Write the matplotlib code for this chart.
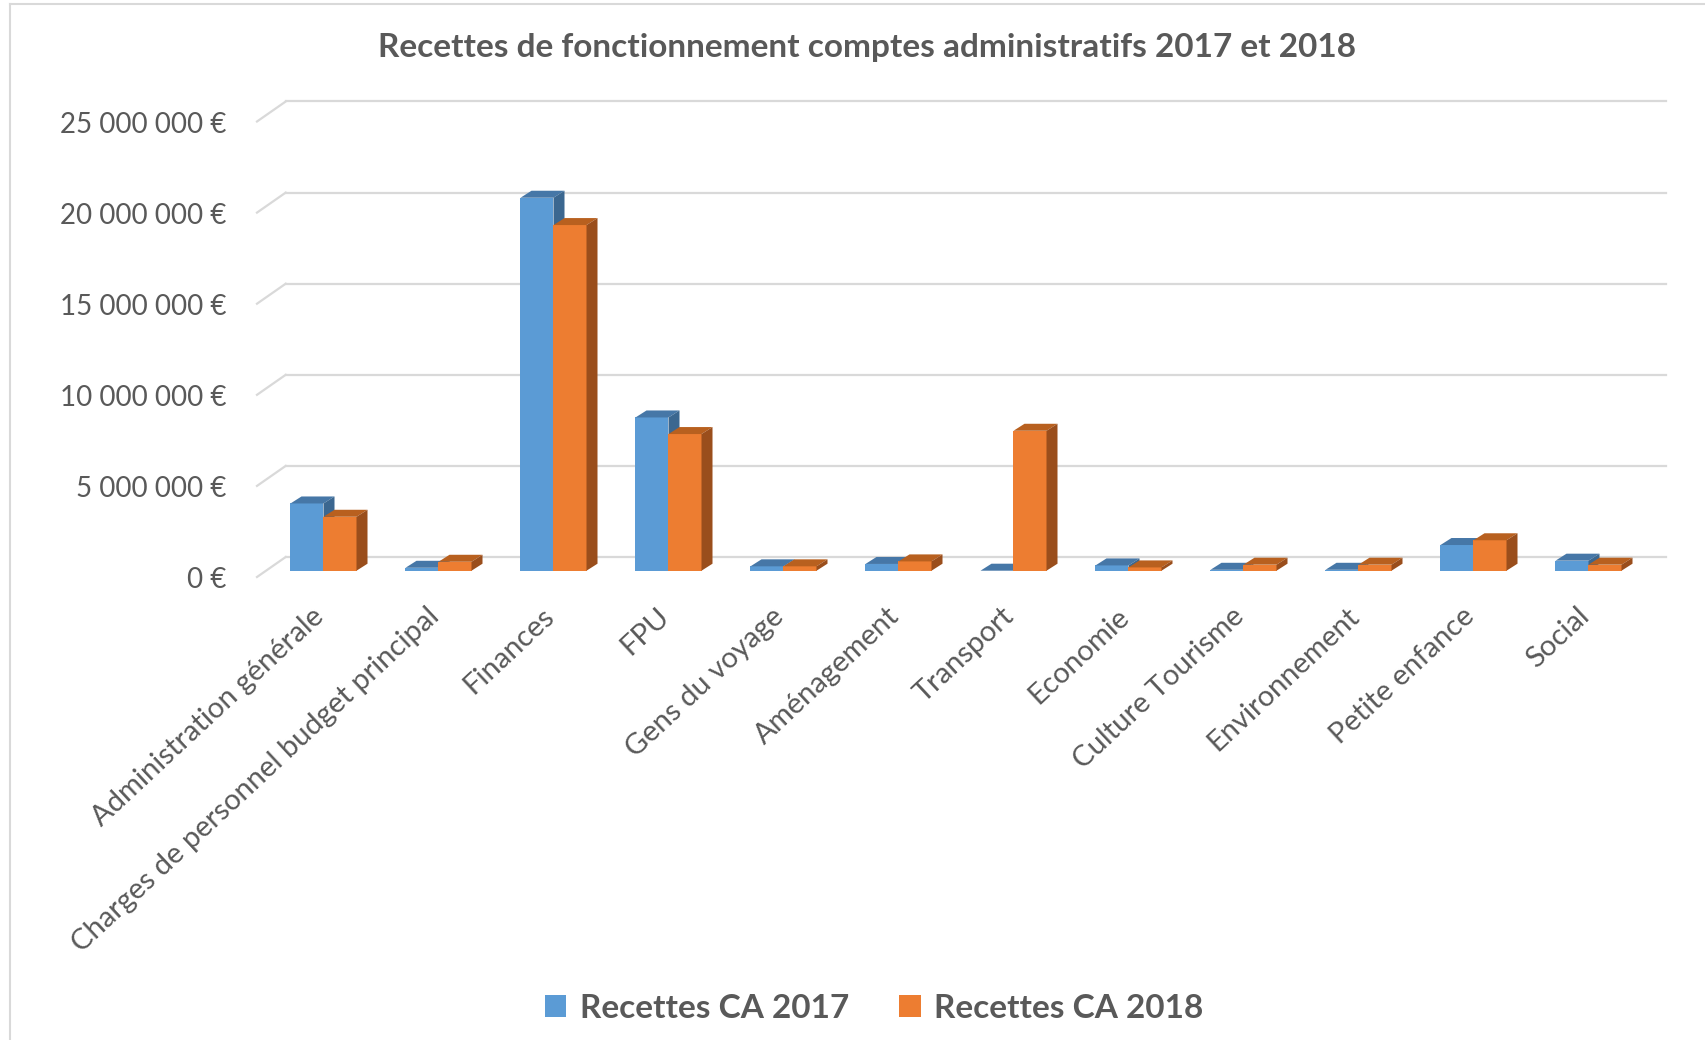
import matplotlib
matplotlib.use("Agg")
import matplotlib.pyplot as plt
from matplotlib.patches import Polygon, Patch
from matplotlib.lines import Line2D
import matplotlib.transforms as mtrans
import numpy as np

# ---------------- data ----------------
categories = ["Administration générale", "Charges de personnel budget principal",
              "Finances", "FPU", "Gens du voyage", "Aménagement", "Transport",
              "Economie", "Culture Tourisme", "Environnement", "Petite enfance", "Social"]
recettes_2017 = [3.69e6, 0.16e6, 20.47e6, 8.41e6, 0.24e6, 0.37e6, 0.0,
                 0.29e6, 0.05e6, 0.05e6, 1.41e6, 0.55e6]
recettes_2018 = [2.96e6, 0.49e6, 18.97e6, 7.50e6, 0.24e6, 0.51e6, 7.68e6,
                 0.18e6, 0.33e6, 0.33e6, 1.67e6, 0.33e6]
series_names = ["Recettes CA 2017", "Recettes CA 2018"]
y_ticks = [0, 5e6, 10e6, 15e6, 20e6, 25e6]
title = "Recettes de fonctionnement comptes administratifs 2017 et 2018"

# ---------------- style ----------------
W, H, DPI = 1706, 1040, 100
plt.rcParams['font.family'] = ['Lato', 'DejaVu Sans']
TXT = '#595959'
GRID = '#D9D9D9'
front_cols = ['#5B9BD5', '#ED7D31']
top_cols = ['#4677A7', '#B8601F']
side_cols = ['#3B6790', '#9A4E1C']

fig = plt.figure(figsize=(W / DPI, H / DPI), dpi=DPI)
fig.patch.set_facecolor('white')

def fx(px):
    return px / W

def fy(py):
    return 1 - py / H

# plane of bar front faces (pixel coords)
L, R, B, T = 266, 1646, 570.7, 115.2
ax = fig.add_axes([fx(L), fy(B), fx(R) - fx(L), fy(T) - fy(B)])
n = len(categories)
ax.set_xlim(-0.5, n - 0.5)
ax.set_ylim(0, 25e6)
ax.axis('off')

BACK = np.array([19.7, 13.7])    # back wall offset (display px)
FRONT = np.array([-9.0, -6.3])   # front floor edge offset
DEPTH = np.array([11.0, 7.0])    # bar depth offset
ident = mtrans.IdentityTransform()

# gridlines on back wall + diagonal side lines
for v in y_ticks:
    p0, p1 = ax.transData.transform([(-0.5, v), (n - 0.5, v)])
    ax.add_line(Line2D([p0[0] + BACK[0], p1[0] + BACK[0]], [p0[1] + BACK[1], p1[1] + BACK[1]],
                       transform=ident, color=GRID, lw=1.6, clip_on=False, zorder=1))
    ax.add_line(Line2D([p0[0] + FRONT[0], p0[0] + BACK[0]], [p0[1] + FRONT[1], p0[1] + BACK[1]],
                       transform=ident, color=GRID, lw=1.6, clip_on=False, zorder=1))

# bars
x = np.arange(n)
w = 0.287
for s, vals in enumerate([recettes_2017, recettes_2018]):
    off = -w / 2 if s == 0 else w / 2
    z = 3 + s
    rects = ax.bar(x + off, vals, w, color=front_cols[s], zorder=z, clip_on=False,
                   linewidth=0)
    for r in rects:
        x0, x1 = r.get_x(), r.get_x() + r.get_width()
        h = r.get_height()
        (ax0, ay0), (ax1, ay1) = ax.transData.transform([(x0, 0), (x1, h)])
        top = [(ax0, ay1), (ax1, ay1), (ax1 + DEPTH[0], ay1 + DEPTH[1]), (ax0 + DEPTH[0], ay1 + DEPTH[1])]
        side = [(ax1, ay0), (ax1, ay1), (ax1 + DEPTH[0], ay1 + DEPTH[1]), (ax1 + DEPTH[0], ay0 + DEPTH[1])]
        ax.add_patch(Polygon(top, closed=True, transform=ident, facecolor=top_cols[s],
                             edgecolor='none', zorder=z + 0.1, clip_on=False))
        ax.add_patch(Polygon(side, closed=True, transform=ident, facecolor=side_cols[s],
                             edgecolor='none', zorder=z + 0.2, clip_on=False))

# y tick labels (on the front edge)
ylab_tr = ax.get_yaxis_transform() + mtrans.ScaledTranslation(0, -9.6 / DPI, fig.dpi_scale_trans)
for v in y_ticks:
    lab = ('{:,.0f}'.format(v).replace(',', ' ')) + ' €'
    ax.text((226.7 - L) / (R - L), v, lab, transform=ylab_tr, ha='right', va='center',
            fontsize=20, color=TXT, clip_on=False)

# category labels
xlab_tr = ax.get_xaxis_transform() + mtrans.ScaledTranslation(-12 / DPI, 0, fig.dpi_scale_trans)
for i, c in enumerate(categories):
    ax.text(i, (B - 603) / (B - T), c, transform=xlab_tr,
            ha='right', va='top', rotation=43, rotation_mode='anchor',
            fontsize=21, color=TXT, clip_on=False)

# title
fig.text(fx(867), fy(47), title, ha='center', va='center', fontsize=24,
         fontweight='bold', color=TXT)

# legend
handles = [Patch(facecolor=front_cols[0]), Patch(facecolor=front_cols[1])]
fig.legend(handles, series_names, loc='center', bbox_to_anchor=(fx(874), fy(1008)),
           ncol=2, frameon=False, prop={'weight': 'bold', 'size': 24},
           handlelength=0.65, handleheight=0.65, handletextpad=0.4,
           columnspacing=1.5, labelcolor=TXT)

# chart border (left and top visible)
fig.add_artist(Line2D([fx(10), fx(10)], [fy(3.5), fy(1040)], transform=fig.transFigure,
                      color=GRID, lw=1.5))
fig.add_artist(Line2D([fx(10), fx(1706)], [fy(3.5), fy(3.5)], transform=fig.transFigure,
                      color=GRID, lw=1.5))

fig.savefig('out.png', dpi=DPI, facecolor='white')
